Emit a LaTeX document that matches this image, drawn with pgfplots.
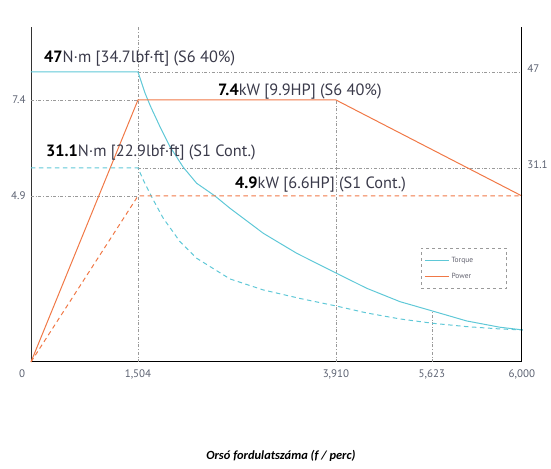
\documentclass[border=0pt]{standalone}
\usepackage{pgfplots}
\pgfplotsset{compat=1.18}
\usepackage{fontspec}
\setmainfont{PT Sans}
\newfontfamily\calibri{Carlito}
\definecolor{tq}{HTML}{5FC8D7}
\definecolor{pw}{HTML}{F07846}
\definecolor{gridc}{HTML}{9A9A9A}
\definecolor{txt}{HTML}{3A3A4A}
\definecolor{tick}{HTML}{5A6070}
\begin{document}
\begin{tikzpicture}
\begin{axis}[
  scale only axis, width=491bp, height=335bp,
  xmin=0, xmax=491, ymin=0, ymax=335,
  axis x line=bottom, axis y line=left,
  axis line style={-, black, line width=1.1pt},
  y axis line style={line width=0.8pt, black!80},
  xtick={107,305,401,491}, xticklabels={1{,}504,3{,}910,5{,}623,6{,}000},
  extra x ticks={0}, extra x tick labels={0},
  extra x tick style={xticklabel style={xshift=-9bp}},
  ytick={262,166}, yticklabels={7.4,4.9},
  major tick length=0pt,
  tick label style={font=\fontsize{11}{13}\selectfont, text=tick},
  xticklabel style={yshift=-4bp},
  yticklabel style={xshift=-2bp},
  /pgf/number format/assume math mode=true,
  clip=false,
  legend style={at={(axis cs:390,114)}, anchor=north west, draw=gridc, dashed, line width=0.7pt,
    font=\fontsize{7.5}{8}\selectfont, text=txt!80, inner xsep=3bp, inner ysep=7bp, row sep=5bp},
  legend cell align=left,
  legend image post style={solid},
  legend image code/.code={\draw[#1, line width=1.3pt] (0bp,0bp) -- (24bp,0bp);},
]
% grid lines
\addplot[gridc, dash dot, line width=0.7pt, forget plot] coordinates {(107,290) (491,290)};
\addplot[gridc, dash dot, line width=0.7pt, forget plot] coordinates {(0,262) (107,262)};
\addplot[gridc, dash dot, line width=0.7pt, forget plot] coordinates {(107,194) (491,194)};
\addplot[gridc, dash dot, line width=0.7pt, forget plot] coordinates {(0,166) (107,166)};
\addplot[gridc, dash dot, line width=0.7pt, forget plot] coordinates {(107,0) (107,335)};
\addplot[gridc, dash dot, line width=0.7pt, forget plot] coordinates {(305,0) (305,262)};
\addplot[gridc, dash dot, line width=0.7pt, forget plot] coordinates {(401,0) (401,51)};
% torque S6
\addplot[tq, line width=1pt, sharp plot] coordinates {(0,290) (107,290) (114,269) (119.7,255.3) (129,235.3) (139,215.3) (152.3,194.7) (165.7,178.7) (184,166) (199,153.7) (232.3,128.7) (265.7,108.7) (299,92) (335.7,73.7) (369,60.3) (401.3,51) (435.7,41) (469,34.7) (492,32)};
\addlegendentry{\makebox[50bp][l]{Torque}}
% power S6
\addplot[pw, line width=1pt, sharp plot] coordinates {(0,0) (107,262) (305,262) (491,166)};
\addlegendentry{\makebox[50bp][l]{Power}}
% torque S1
\addplot[tq, line width=1pt, dash pattern=on 4.5pt off 3.5pt, sharp plot, forget plot] coordinates {(0,194) (107,194) (112.3,182) (122.3,162) (132.3,143.7) (149,120.3) (165.7,103.7) (199,83) (232.3,72) (269,63.5) (305,56) (335.7,49) (369,43) (401.3,38.7) (435.7,35.3) (469,33) (492,32)};
% power S1
\addplot[pw, line width=1pt, dash pattern=on 4.5pt off 3.5pt, sharp plot, forget plot] coordinates {(0,0) (107,166) (491,166)};
% right axis line and labels
\draw[black, line width=1.1pt] (axis cs:491,0) -- (axis cs:491,335);
\node[anchor=west, text=tick, font=\fontsize{11}{13}\selectfont] at (axis cs:493,293) {47};
\node[anchor=west, text=tick, font=\fontsize{11}{13}\selectfont] at (axis cs:493,197) {31.1};
% annotations
\node[anchor=base west, text=txt, font=\fontsize{16.4}{18}\selectfont, inner sep=0pt] at (axis cs:13,299) {\textbf{\color{black}47}N·m [34.7lbf·ft] (S6 40\%)};
\node[anchor=base west, text=txt, font=\fontsize{16.4}{18}\selectfont, inner sep=0pt] at (axis cs:187,266) {\textbf{\color{black}7.4}kW [9.9HP] (S6 40\%)};
\node[anchor=base west, text=txt, font=\fontsize{16.4}{18}\selectfont, inner sep=0pt] at (axis cs:15,205) {\textbf{\color{black}31.1}N·m [22.9lbf·ft] (S1 Cont.)};
\node[anchor=base west, text=txt, font=\fontsize{16.4}{18}\selectfont, inner sep=0pt] at (axis cs:204,173) {\textbf{\color{black}4.9}kW [6.6HP] (S1 Cont.)};
\node[font=\calibri\bfseries\itshape\fontsize{12.5}{14}\selectfont, text=black] at (axis cs:250,-94) {Orsó fordulatszáma (f / perc)};
\path (axis cs:-31,-107) rectangle (axis cs:520,362);
\end{axis}
\end{tikzpicture}
\end{document}
